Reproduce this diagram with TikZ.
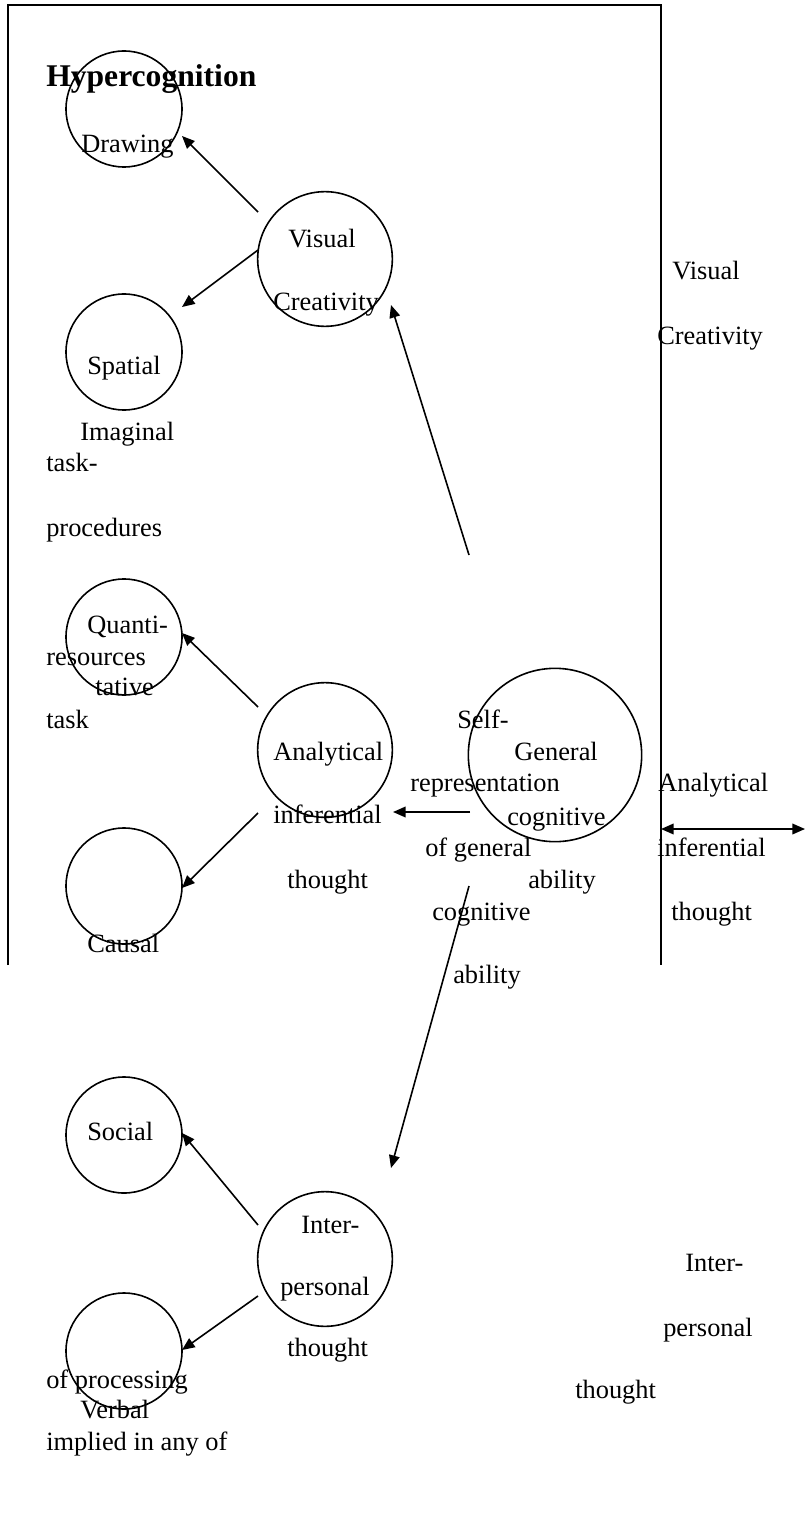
\documentclass[tikz,border=0pt]{standalone}
\usepackage{fontspec}
\setmainfont{Liberation Serif}
\usetikzlibrary{arrows.meta}
\begin{document}
\begin{tikzpicture}[x=0.75pt,y=-0.75pt,
  lbl/.style={anchor=base west,inner sep=0pt,font=\fontsize{19.8pt}{24pt}\selectfont},
  ttl/.style={anchor=base west,inner sep=0pt,font=\fontsize{23.7pt}{28pt}\selectfont\bfseries},
  sc/.style={draw,circle,line width=1.2pt,minimum size=87pt,inner sep=0pt},
  mc/.style={draw,circle,line width=1.2pt,minimum size=101pt,inner sep=0pt},
  bc/.style={draw,circle,line width=1.2pt,minimum size=130pt,inner sep=0pt},
  arr/.style={line width=1.2pt,-{Triangle[length=9.5pt,width=8pt]}},
  darr/.style={line width=1.2pt,{Triangle[length=9.5pt,width=8pt]}-{Triangle[length=9.5pt,width=8pt]}},
  frame/.style={line width=1.2pt}]
\useasboundingbox (0,0) rectangle (805,1540);
% frame
\coordinate (fbl) at (8,965);
\coordinate (ftl) at (8,5);
\coordinate (ftr) at (661,5);
\coordinate (fbr) at (661,965);
\draw[frame] (fbl) -- (ftl) -- (ftr) -- (fbr);
% circles
\node[sc] (drw) at (124,109) {};
\node[mc] (vis) at (325,259) {};
\node[sc] (spa) at (124,352) {};
\node[sc] (qua) at (124,637) {};
\node[mc] (ana) at (325,750) {};
\node[sc] (cau) at (124,886) {};
\node[bc] (gen) at (555,755) {};
\node[sc] (soc) at (124,1135) {};
\node[mc] (int) at (325,1259) {};
\node[sc] (ver) at (124,1351) {};
% arrow end points
\coordinate (v1) at (258,212);
\coordinate (d1) at (182,136);
\coordinate (v2) at (258,250);
\coordinate (s1) at (182,307);
\coordinate (g1) at (469,555);
\coordinate (v3) at (391,305);
\coordinate (a1) at (258,707);
\coordinate (q1) at (182,633);
\coordinate (a2) at (258,813);
\coordinate (c1) at (182,888);
\coordinate (g2) at (470,812);
\coordinate (a3) at (393,812);
\coordinate (g3) at (469,886);
\coordinate (i3) at (391,1168);
\coordinate (i1) at (258,1225);
\coordinate (so1) at (182,1133);
\coordinate (i2) at (258,1296);
\coordinate (ve1) at (182,1350);
\coordinate (dl) at (661,829);
\coordinate (dr) at (805,829);
\draw[arr] (v1) -- (d1);
\draw[arr] (v2) -- (s1);
\draw[arr] (g1) -- (v3);
\draw[arr] (a1) -- (q1);
\draw[arr] (a2) -- (c1);
\draw[arr] (g2) -- (a3);
\draw[arr] (g3) -- (i3);
\draw[arr] (i1) -- (so1);
\draw[arr] (i2) -- (ve1);
\draw[darr] (dl) -- (dr);
% texts
\node[ttl] (t0) at (46,87) {Hypercognition};
\node[lbl] (t1) at (81,153) {Drawing};
\node[lbl] (t2) at (288,248) {Visual};
\node[lbl] (t3) at (273,311) {Creativity};
\node[lbl] (t4) at (87,375) {Spatial};
\node[lbl] (t5) at (80,440) {Imaginal};
\node[lbl] (t6) at (46,471) {task-};
\node[lbl] (t7) at (46,536) {procedures};
\node[lbl] (t8) at (87,633) {Quanti-};
\node[lbl] (t9) at (46,665) {resources};
\node[lbl] (t10) at (95,695) {tative};
\node[lbl] (t11) at (46,728) {task};
\node[lbl] (t12) at (273,760) {Analytical};
\node[lbl] (t13) at (273,823) {inferential};
\node[lbl] (t14) at (287,888) {thought};
\node[lbl] (t15) at (87,952) {Causal};
\node[lbl] (t16) at (457,728) {Self-};
\node[lbl] (t17) at (514,760) {General};
\node[lbl] (t18) at (410,791) {representation};
\node[lbl] (t19) at (507,825) {cognitive};
\node[lbl] (t20) at (425,856) {of general};
\node[lbl] (t21) at (528,888) {ability};
\node[lbl] (t22) at (432,920) {cognitive};
\node[lbl] (t23) at (453,983) {ability};
\node[lbl] (t24) at (672,280) {Visual};
\node[lbl] (t25) at (657,345) {Creativity};
\node[lbl] (t26) at (658,791) {Analytical};
\node[lbl] (t27) at (657,856) {inferential};
\node[lbl] (t28) at (671,920) {thought};
\node[lbl] (t29) at (87,1140) {Social};
\node[lbl] (t30) at (301,1233) {Inter-};
\node[lbl] (t31) at (280,1295) {personal};
\node[lbl] (t32) at (287,1356) {thought};
\node[lbl] (t33) at (46,1388) {of processing};
\node[lbl] (t34) at (80,1418) {Verbal};
\node[lbl] (t35) at (46,1450) {implied in any of};
\node[lbl] (t36) at (685,1271) {Inter-};
\node[lbl] (t37) at (663,1336) {personal};
\node[lbl] (t38) at (575,1398) {thought};
\end{tikzpicture}
\end{document}
